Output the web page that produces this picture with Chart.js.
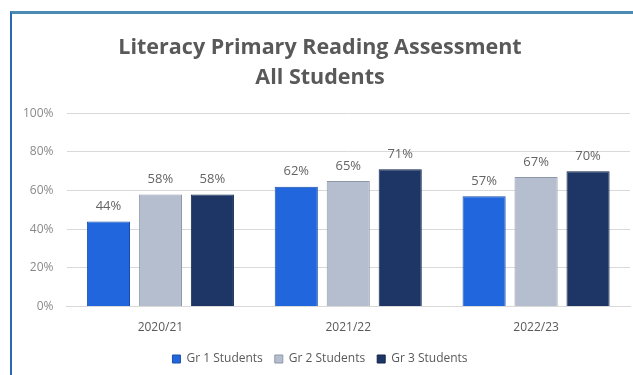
<!DOCTYPE html>
<html>
<head>
<meta charset="utf-8">
<script src="https://cdn.jsdelivr.net/npm/chart.js@4"></script>
<style>
    html, body { margin: 0; padding: 0; background: #fff; }
    #wrap { position: relative; width: 633px; height: 375px; }
    #frame { position: absolute; left: 10px; top: 11px; right: 0; bottom: 0;
             border-top: 3px solid #4a8ab3; border-left: 2px solid #2a68b0; }
    canvas { position: absolute; left: 0; top: 0; }
</style>
</head>
<body>
<div id="wrap">
    <div id="frame"></div>
    <canvas id="chart" width="633" height="375"></canvas>
</div>
<script>
const years = ['2020/21', '2021/22', '2022/23'];
const gr1 = [44, 62, 57];
const gr2 = [58, 65, 67];
const gr3 = [58, 71, 70];
const yTicks = [0, 20, 40, 60, 80, 100];

const FONT = '"Open Sans", sans-serif';

// value labels above each bar
const barLabels = {
    id: 'barLabels',
    afterDatasetsDraw(chart) {
        const ctx = chart.ctx;
        ctx.save();
        ctx.font = '13px ' + FONT;
        ctx.fillStyle = '#646464';
        ctx.textAlign = 'center';
        ctx.textBaseline = 'middle';
        chart.data.datasets.forEach(function(ds, i) {
            chart.getDatasetMeta(i).data.forEach(function(bar, j) {
                ctx.fillText(ds.data[j] + '%', bar.x, bar.y - 15);
            });
        });
        ctx.restore();
    }
};

const ctx = document.getElementById('chart').getContext('2d');
const chart = new Chart(ctx, {
    type: 'bar',
    data: {
        labels: years,
        datasets: [{
            label: 'Gr 1 Students',
            data: gr1,
            backgroundColor: '#2166dc',
            borderColor: '#1a4ea8',
            borderWidth: 1
        }, {
            label: 'Gr 2 Students',
            data: gr2,
            backgroundColor: '#b5bece',
            borderColor: '#8d97a8',
            borderWidth: 1
        }, {
            label: 'Gr 3 Students',
            data: gr3,
            backgroundColor: '#1d3666',
            borderColor: '#13254a',
            borderWidth: 1
        }]
    },
    options: {
        responsive: false,
        animation: false,
        barPercentage: 0.83,
        categoryPercentage: 0.83,
        layout: {
            padding: { top: 24, left: 10, right: 3, bottom: 0 }
        },
        plugins: {
            title: {
                display: true,
                text: ['Literacy Primary Reading Assessment', 'All Students'],
                color: '#595959',
                font: { family: FONT, size: 21.5, weight: 'bold', lineHeight: 1.4 },
                padding: { top: 9, bottom: 20 }
            },
            legend: {
                position: 'bottom',
                labels: {
                    color: '#595959',
                    font: { family: FONT, size: 12 },
                    boxWidth: 8,
                    boxHeight: 8,
                    padding: 12
                }
            },
            tooltip: { enabled: false }
        },
        scales: {
            x: {
                grid: { display: false },
                border: { color: '#d9d9d9' },
                ticks: { color: '#595959', font: { family: FONT, size: 12 }, padding: 6 }
            },
            y: {
                min: 0,
                max: 100,
                afterBuildTicks: function(axis) {
                    axis.ticks = yTicks.map(function(v) { return { value: v }; });
                },
                grid: { color: '#d9d9d9', drawTicks: false },
                border: { display: false },
                ticks: {
                    color: '#8a8a8a',
                    font: { family: FONT, size: 12 },
                    padding: 13,
                    callback: function(v) { return v + '%'; }
                }
            }
        }
    },
    plugins: [barLabels]
});
</script>
</body>
</html>
